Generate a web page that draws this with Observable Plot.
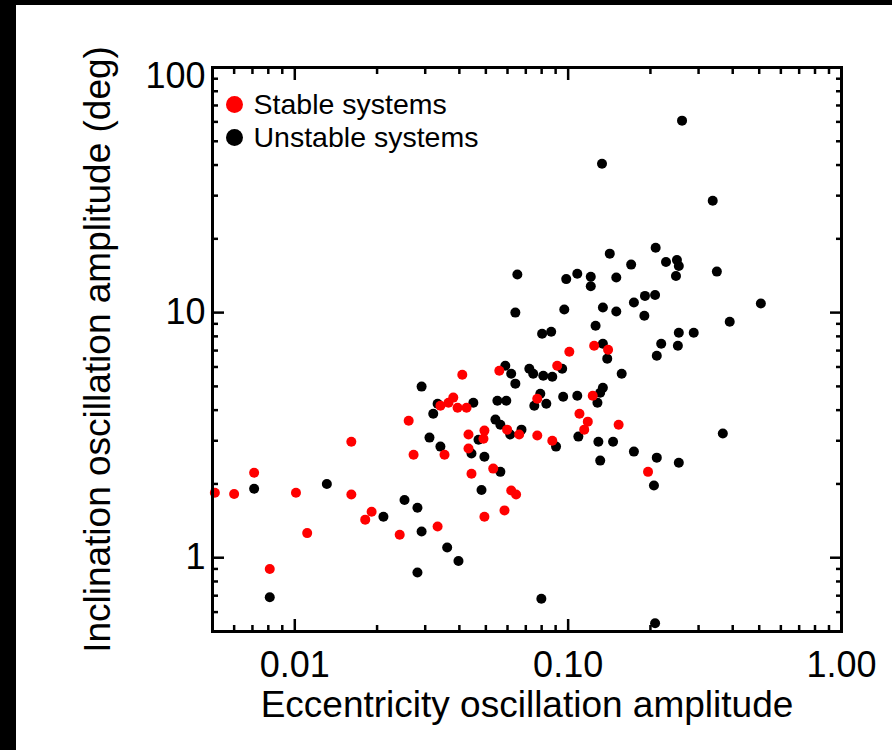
<!DOCTYPE html>
<html><head><meta charset="utf-8">
<script src="https://cdn.jsdelivr.net/npm/d3@7"></script>
<script src="https://cdn.jsdelivr.net/npm/@observablehq/plot@0.6"></script>
<style>
html,body{margin:0;padding:0;background:#fff;}
#wrap{width:876px;height:745px;border-top:5px solid #000;border-left:16px solid #000;background:#fff;}
#wrap svg{overflow:visible;}
</style></head><body><div id="wrap"></div>
<script>
const seriesNames = ["Stable systems", "Unstable systems"];
const seriesColors = ["#ff0000", "#000000"];

const stableEcc = [0.0341,0.0365,0.0261,0.0161,0.0272,0.0353,0.0071,0.0051,0.0060,0.0101,0.0161,0.0191,0.0181,0.0111,0.0242,0.0333,0.0081,
  0.1245,0.140,0.101,0.0912,0.0560,0.0410,0.123,0.0771,0.0380,0.0394,0.0425,0.110,0.118,0.153,0.1145,0.0598,0.0662,0.0771,0.0875,
  0.0432,0.0494,0.0490,0.0432,0.0532,0.0443,0.196,0.0619,0.0645,0.0585,0.0494];
const stableInc = [4.17,4.29,3.62,2.97,2.63,2.63,2.22,1.84,1.82,1.84,1.81,1.54,1.43,1.26,1.24,1.34,0.90,
  7.33,7.06,6.92,6.07,5.79,5.58,4.58,4.45,4.50,4.09,4.09,3.87,3.59,3.49,3.33,3.33,3.18,3.15,3.00,
  3.18,3.30,3.06,2.79,2.31,2.20,2.24,1.88,1.81,1.56,1.47];

const unstableEcc = [0.0291,0.0333,0.0321,0.0311,0.0341,0.0131,0.0071,0.0252,0.0281,0.0211,0.0291,0.0361,0.0281,0.0081,
  0.142,0.209,0.170,0.228,0.250,0.254,0.350,0.0652,0.108,0.0984,0.121,0.150,0.248,0.121,0.191,0.208,0.174,0.134,0.150,0.190,
  0.0641,0.0968,0.390,0.126,0.254,0.288,0.0803,0.0867,0.219,0.252,0.134,0.139,0.211,0.0951,0.0589,0.0619,0.0721,0.0745,0.0811,
  0.0875,0.157,0.0641,0.134,0.131,0.128,0.0959,0.108,0.0791,0.0752,0.0832,0.0450,0.0551,0.0594,0.368,0.0542,0.0565,0.0675,
  0.0614,0.0903,0.109,0.129,0.146,0.0470,0.0443,0.0494,0.174,0.211,0.254,0.131,0.0565,0.206,0.0482,0.261,0.133,0.338,0.507,
  0.0397,0.0798,0.208];
const unstableInc = [4.99,4.25,3.87,3.09,2.84,2.00,1.91,1.72,1.60,1.47,1.28,1.10,0.87,0.69,
  17.4,18.4,15.7,16.1,16.4,15.5,14.7,14.3,14.4,13.7,14.0,13.9,14.1,12.8,11.7,11.8,11.0,10.5,10.1,9.71,
  10.0,10.3,9.18,8.84,8.28,8.28,8.20,8.36,7.46,7.33,7.46,6.49,6.67,5.90,6.07,5.63,5.90,5.63,5.53,
  5.47,5.63,5.13,4.94,4.71,4.29,4.54,4.58,4.67,4.17,4.25,4.29,4.37,4.37,3.21,3.66,3.49,3.33,
  3.18,2.84,3.12,2.97,2.97,3.03,2.66,2.58,2.71,2.56,2.44,2.49,2.24,1.97,1.89,60.7,40.5,28.6,10.9,
  0.97,0.68,0.54];

const xMajorTicks = [0.01, 0.1, 1];
const xTickLabels = ["0.01", "0.10", "1.00"];
const xMinorTicks = [0.006,0.007,0.008,0.009,0.02,0.03,0.04,0.05,0.06,0.07,0.08,0.09,0.2,0.3,0.4,0.5,0.6,0.7,0.8,0.9];
const yMajorTicks = [1, 10, 100];
const yTickLabels = ["1", "10", "100"];
const yMinorTicks = [0.6,0.7,0.8,0.9,2,3,4,5,6,7,8,9,20,30,40,50,60,70,80,90];

const xTitle = "Eccentricity oscillation amplitude";
const yTitle = "Inclination oscillation amplitude (deg)";

const noText = {tickFormat: () => "", label: null, strokeWidth: 2.5};
const FS = 36;

const chart = Plot.plot({
  width: 876, height: 745,
  marginLeft: 196, marginRight: 51, marginTop: 62, marginBottom: 119,
  x: {type: "log", domain: [0.005, 1]},
  y: {type: "log", domain: [0.5, 100]},
  style: {fontFamily: "'Liberation Sans', Arial, Helvetica, sans-serif", background: "white", color: "black"},
  marks: [
    Plot.axisX(xMajorTicks, {anchor: "bottom", tickSize: -12, ...noText}),
    Plot.axisX(xMinorTicks, {anchor: "bottom", tickSize: -6, ...noText}),
    Plot.axisX(xMajorTicks, {anchor: "top", tickSize: -12, ...noText}),
    Plot.axisX(xMinorTicks, {anchor: "top", tickSize: -6, ...noText}),
    Plot.axisY(yMajorTicks, {anchor: "left", tickSize: -12, ...noText}),
    Plot.axisY(yMinorTicks, {anchor: "left", tickSize: -6, ...noText}),
    Plot.axisY(yMajorTicks, {anchor: "right", tickSize: -12, ...noText}),
    Plot.axisY(yMinorTicks, {anchor: "right", tickSize: -6, ...noText}),
    Plot.axisX(xMajorTicks, {anchor: "bottom", tickSize: 0, tickPadding: 20, fontSize: FS,
      tickFormat: d => xTickLabels[xMajorTicks.indexOf(d)], label: null}),
    Plot.axisX([], {anchor: "bottom", tickSize: 0, fontSize: 37, label: xTitle,
      labelAnchor: "center", labelArrow: "none", labelOffset: 85}),
    Plot.axisY(yMajorTicks.slice(0, 2), {anchor: "left", tickSize: 0, tickPadding: 7, fontSize: FS,
      tickFormat: d => yTickLabels[yMajorTicks.indexOf(d)], label: null}),
    Plot.axisY([], {anchor: "left", tickSize: 0, fontSize: 37, label: yTitle,
      labelAnchor: "center", labelArrow: "none", labelOffset: 129}),
    Plot.axisY(yMajorTicks.slice(2), {anchor: "left", tickSize: 0, tickPadding: 7, fontSize: FS, dy: 9,
      tickFormat: d => yTickLabels[yMajorTicks.indexOf(d)], label: null}),
    Plot.dot(unstableEcc, {x: unstableEcc, y: unstableInc, r: 5, fill: seriesColors[1], stroke: null}),
    Plot.dot(stableEcc, {x: stableEcc, y: stableInc, r: 5, fill: seriesColors[0], stroke: null}),
    Plot.dot([seriesNames[0]], {frameAnchor: "top-left", dx: 22, dy: 37, r: 8.5, fill: seriesColors[0]}),
    Plot.dot([seriesNames[1]], {frameAnchor: "top-left", dx: 22, dy: 70, r: 8.5, fill: seriesColors[1]}),
    Plot.text([seriesNames[0]], {text: d => d, frameAnchor: "top-left", dx: 41, dy: 37, textAnchor: "start", lineAnchor: "middle", fontSize: 28.5, fill: "black"}),
    Plot.text([seriesNames[1]], {text: d => d, frameAnchor: "top-left", dx: 41, dy: 70, textAnchor: "start", lineAnchor: "middle", fontSize: 28.5, fill: "black"}),
    Plot.frame({stroke: "black", strokeWidth: 3})
  ]
});
document.getElementById("wrap").appendChild(chart);
</script></body></html>
